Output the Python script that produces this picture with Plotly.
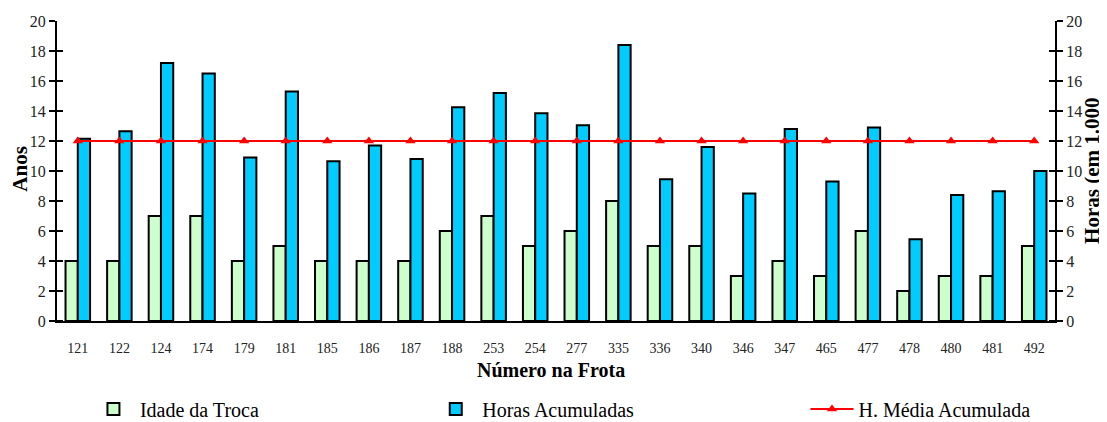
import plotly.graph_objects as go

categorias = ["121", "122", "124", "174", "179", "181", "185", "186", "187", "188", "253", "254",
              "277", "335", "336", "340", "346", "347", "465", "477", "478", "480", "481", "492"]
idade_troca = [4, 4, 7, 7, 4, 5, 4, 4, 4, 6, 7, 5, 6, 8, 5, 5, 3, 4, 3, 6, 2, 3, 3, 5]
horas_acumuladas = [12.15, 12.65, 17.2, 16.5, 10.9, 15.3, 10.65, 11.7, 10.8, 14.25, 15.2, 13.85,
                    13.05, 18.4, 9.45, 11.6, 8.5, 12.8, 9.3, 12.9, 5.45, 8.4, 8.65, 10.0]
media_acumulada = [12] * len(categorias)
y_ticks = list(range(0, 21, 2))

FONT = "Liberation Serif"

fig = go.Figure()
fig.add_trace(go.Bar(
    x=categorias, y=idade_troca, name="Idade da Troca", yaxis="y",
    offsetgroup="a", marker=dict(color="#CCFFCC", line=dict(color="black", width=2)),
    legend="legend", showlegend=True))
fig.add_trace(go.Bar(
    x=categorias, y=horas_acumuladas, name="Horas Acumuladas", yaxis="y2",
    offsetgroup="b", marker=dict(color="#00CCFF", line=dict(color="black", width=2)),
    legend="legend2", showlegend=True))
fig.add_trace(go.Scatter(
    x=categorias, y=media_acumulada, name="H. Média Acumulada", yaxis="y2",
    mode="lines+markers", line=dict(color="#FF0000", width=2),
    marker=dict(symbol="triangle-up", size=9, color="#FF0000"),
    legend="legend3", showlegend=True))

axis_common = dict(range=[0, 20], tickvals=y_ticks, showgrid=False, zeroline=False,
                   showline=True, linecolor="black", linewidth=2, automargin=False,
                   ticks="outside", ticklen=6, tickwidth=2, tickcolor="black",
                   minor=dict(tickvals=[v + 0.02 for v in y_ticks], ticks="inside",
                              ticklen=6, tickwidth=2, tickcolor="black", showgrid=False),
                   tickfont=dict(family=FONT, size=16, color="#222"))

leg_common = dict(orientation="h", yanchor="middle", y=-0.293, xanchor="left",
                  font=dict(family=FONT, size=20, color="black"),
                  bgcolor="rgba(0,0,0,0)", itemwidth=43, visible=True)

fig.update_layout(
    width=1099, height=414,
    margin=dict(l=49, r=52, t=13, b=101, autoexpand=False),
    paper_bgcolor="white", plot_bgcolor="white",
    showlegend=True,
    barmode="group", bargap=0.41, bargroupgap=0,
    font=dict(family=FONT, color="black"),
    xaxis=dict(type="category", range=[-0.5, len(categorias) - 0.5], automargin=False,
               showline=True, linecolor="black", linewidth=2,
               showgrid=False, ticks="outside", ticklen=13, tickcolor="rgba(0,0,0,0)",
               tickfont=dict(family=FONT, size=14, color="#222")),
    yaxis=dict(**axis_common, side="left"),
    yaxis2=dict(**axis_common, side="right", overlaying="y"),
    legend=dict(**leg_common, x=0.030),
    legend2=dict(**leg_common, x=0.373),
    legend3=dict(**leg_common, x=0.750),
    annotations=[
        dict(text="<b>Anos</b>", xref="paper", yref="paper", x=-0.037, y=0.508,
             xanchor="center", yanchor="middle", textangle=-90, showarrow=False,
             font=dict(family=FONT, size=21, color="black")),
        dict(text="<b>Horas (em 1.000</b>", xref="paper", yref="paper", x=1.037, y=0.5,
             xanchor="center", yanchor="middle", textangle=-90, showarrow=False,
             font=dict(family=FONT, size=21, color="black")),
        dict(text="<b>Número na Frota</b>", xref="paper", yref="paper", x=0.495, y=-0.163,
             xanchor="center", yanchor="middle", showarrow=False,
             font=dict(family=FONT, size=20, color="black")),
    ],
)

fig.write_html("out.html")
